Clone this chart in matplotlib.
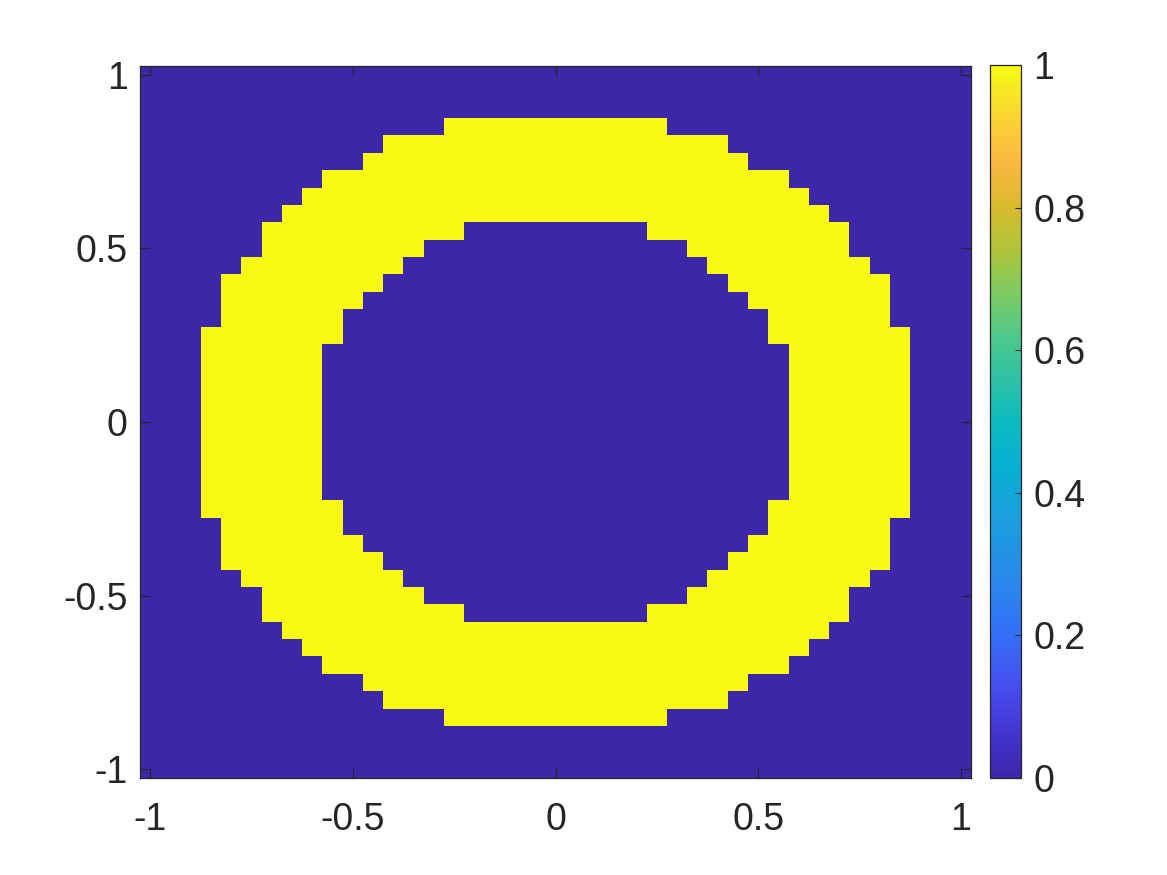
import numpy as np
import matplotlib
matplotlib.use("Agg")
import matplotlib.pyplot as plt
from matplotlib.colors import LinearSegmentedColormap

plt.rcParams['font.family'] = ['Liberation Sans', 'DejaVu Sans']
plt.rcParams['axes.unicode_minus'] = False

# ---- data ----
# grid: 41 x 41 cells, centres from -1 to 1 (step 0.05)
n_half = 20
x_min, x_max = -1.0, 1.0
# for each |row offset| j (0..20) from the centre row:
# yellow cells are those with inner_half[j] < |col offset| <= outer_half[j]
outer_half = [17, 17, 17, 17, 17, 17, 16, 16, 16, 15, 14, 14, 13, 12, 11, 9, 8, 5, -1, -1, -1]
inner_half = [11, 11, 11, 11, 11, 10, 10, 9, 8, 7, 6, 4, -1, -1, -1, -1, -1, -1, -1, -1, -1]

xticks = [-1, -0.5, 0, 0.5, 1]
xticklabels = ['-1', '-0.5', '0', '0.5', '1']
cbar_ticks = [0, 0.2, 0.4, 0.6, 0.8, 1]
cbar_labels = ['0', '0.2', '0.4', '0.6', '0.8', '1']

# ---- build image ----
n = 2 * n_half + 1
Z = np.zeros((n, n))
for i in range(n):
    j = abs(i - n_half)
    for k in range(n):
        m = abs(k - n_half)
        if inner_half[j] < m <= outer_half[j]:
            Z[i, k] = 1.0

# parula-like colormap
parula_pts = [
    (0.00, (0.2422, 0.1504, 0.6603)),
    (0.06, (0.2640, 0.2050, 0.8100)),
    (0.12, (0.2750, 0.2950, 0.9350)),
    (0.20, (0.2100, 0.4300, 0.9700)),
    (0.28, (0.1600, 0.5400, 0.9200)),
    (0.36, (0.1100, 0.6200, 0.8700)),
    (0.44, (0.0300, 0.6900, 0.8200)),
    (0.50, (0.0500, 0.7300, 0.7500)),
    (0.56, (0.1800, 0.7600, 0.6500)),
    (0.62, (0.3100, 0.7850, 0.5400)),
    (0.68, (0.4900, 0.7950, 0.4000)),
    (0.74, (0.6800, 0.7700, 0.2300)),
    (0.80, (0.8400, 0.7300, 0.1800)),
    (0.86, (0.9800, 0.7200, 0.2500)),
    (0.92, (0.9900, 0.8100, 0.2100)),
    (0.96, (0.9650, 0.9000, 0.1500)),
    (1.00, (0.9769, 0.9839, 0.0805)),
]
parula = LinearSegmentedColormap.from_list('parula', parula_pts, N=256)

W, H = 1167, 875
fig = plt.figure(figsize=(W / 100, H / 100), dpi=100)
ax = fig.add_axes([140 / W, 1 - 778 / H, 831 / W, 712 / H])

step = (x_max - x_min) / (n - 1)
ext = [x_min - step / 2, x_max + step / 2, x_min - step / 2, x_max + step / 2]
im = ax.imshow(Z, cmap=parula, vmin=0, vmax=1, origin='lower', extent=ext,
               aspect='auto', interpolation='nearest')

axcol = '#262626'
fs = 27
ax.set_xticks(xticks)
ax.set_xticklabels(xticklabels)
ax.set_yticks(xticks)
ax.set_yticklabels(xticklabels)
ax.tick_params(axis='both', direction='in', length=7.5, width=0.8, colors=axcol,
               labelsize=fs, top=True, right=True)
ax.tick_params(axis='x', pad=17)
ax.tick_params(axis='y', pad=9)
for s in ax.spines.values():
    s.set_color(axcol)
    s.set_linewidth(0.9)

cax = fig.add_axes([990 / W, 1 - 778 / H, 31 / W, 713 / H])
cb = fig.colorbar(im, cax=cax)
cb.set_ticks(cbar_ticks)
cb.set_ticklabels(cbar_labels)
cax.tick_params(direction='in', length=4.5, width=0.8, colors=axcol, labelsize=fs, pad=9)
cb.outline.set_edgecolor(axcol)
cb.outline.set_linewidth(0.9)

fig.savefig('out.png', dpi=100)
